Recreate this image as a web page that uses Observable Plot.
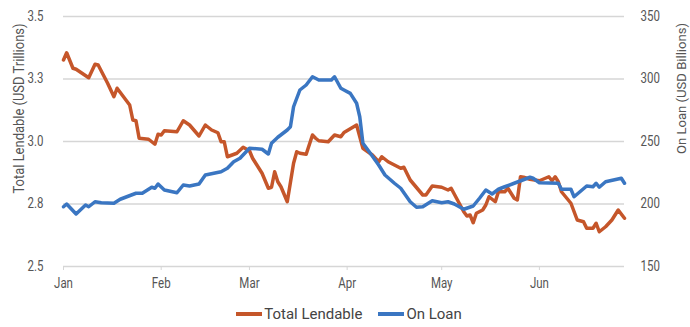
<!DOCTYPE html>
<html><head><meta charset="utf-8">
<script src="https://cdn.jsdelivr.net/npm/d3@7"></script>
<script src="https://cdn.jsdelivr.net/npm/@observablehq/plot@0.6"></script>
<style>
body{margin:0;background:#fff;font-family:Roboto,"Liberation Sans",sans-serif;}
#chart{height:296px}
#legend{display:flex;justify-content:center;align-items:center;height:31px;font-size:15px;color:#444;gap:16px;padding-left:8px;padding-top:2px}
#legend span.item{display:flex;align-items:center}
#legend span.sw{display:inline-block;width:26px;height:4px;margin-right:2px}
</style></head><body><div id="chart"></div><div id="legend"></div>
<script>
const lendDates=["2021-01-01","2021-01-02","2021-01-04","2021-01-05","2021-01-09","2021-01-11","2021-01-12","2021-01-15","2021-01-17","2021-01-18","2021-01-22","2021-01-23","2021-01-24","2021-01-25","2021-01-28","2021-01-30","2021-01-31","2021-02-01","2021-02-02","2021-02-06","2021-02-08","2021-02-10","2021-02-13","2021-02-15","2021-02-17","2021-02-19","2021-02-20","2021-02-21","2021-02-22","2021-02-25","2021-02-27","2021-03-01","2021-03-02","2021-03-05","2021-03-07","2021-03-08","2021-03-09","2021-03-10","2021-03-11","2021-03-13","2021-03-15","2021-03-16","2021-03-17","2021-03-19","2021-03-21","2021-03-22","2021-03-23","2021-03-26","2021-03-28","2021-03-30","2021-03-31","2021-04-04","2021-04-06","2021-04-09","2021-04-11","2021-04-12","2021-04-14","2021-04-16","2021-04-18","2021-04-19","2021-04-21","2021-04-25","2021-04-26","2021-04-28","2021-05-01","2021-05-03","2021-05-04","2021-05-06","2021-05-08","2021-05-09","2021-05-10","2021-05-11","2021-05-12","2021-05-14","2021-05-15","2021-05-16","2021-05-18","2021-05-19","2021-05-21","2021-05-22","2021-05-24","2021-05-25","2021-05-26","2021-05-27","2021-05-29","2021-06-01","2021-06-04","2021-06-05","2021-06-06","2021-06-07","2021-06-08","2021-06-11","2021-06-13","2021-06-15","2021-06-16","2021-06-18","2021-06-19","2021-06-20","2021-06-22","2021-06-24","2021-06-26","2021-06-28"];
const lendValues=[3.326,3.355,3.293,3.289,3.255,3.309,3.306,3.233,3.179,3.213,3.146,3.086,3.083,3.013,3.009,2.989,3.029,3.026,3.043,3.039,3.083,3.066,3.022,3.066,3.046,3.035,2.999,2.999,2.939,2.953,2.977,2.963,2.933,2.873,2.813,2.817,2.879,2.839,2.819,2.759,2.913,2.959,2.953,2.949,3.026,3.013,3.003,2.999,3.026,3.019,3.036,3.066,2.973,2.946,2.919,2.939,2.919,2.906,2.893,2.897,2.846,2.786,2.786,2.822,2.817,2.806,2.813,2.766,2.719,2.702,2.706,2.675,2.713,2.726,2.746,2.779,2.759,2.799,2.799,2.813,2.773,2.766,2.859,2.857,2.849,2.843,2.859,2.843,2.859,2.839,2.799,2.753,2.686,2.679,2.653,2.653,2.673,2.639,2.659,2.686,2.726,2.693];
const loanDates=["2021-01-01","2021-01-02","2021-01-05","2021-01-08","2021-01-09","2021-01-11","2021-01-13","2021-01-17","2021-01-19","2021-01-24","2021-01-26","2021-01-29","2021-01-30","2021-01-31","2021-02-02","2021-02-06","2021-02-08","2021-02-10","2021-02-13","2021-02-15","2021-02-20","2021-02-22","2021-02-24","2021-02-26","2021-03-01","2021-03-05","2021-03-07","2021-03-08","2021-03-10","2021-03-13","2021-03-14","2021-03-15","2021-03-17","2021-03-19","2021-03-21","2021-03-23","2021-03-27","2021-03-28","2021-03-30","2021-03-31","2021-04-02","2021-04-04","2021-04-05","2021-04-06","2021-04-08","2021-04-11","2021-04-13","2021-04-16","2021-04-18","2021-04-21","2021-04-23","2021-04-25","2021-04-28","2021-05-01","2021-05-03","2021-05-05","2021-05-08","2021-05-11","2021-05-13","2021-05-15","2021-05-17","2021-05-19","2021-05-21","2021-05-24","2021-05-29","2021-05-30","2021-06-01","2021-06-07","2021-06-08","2021-06-11","2021-06-12","2021-06-16","2021-06-18","2021-06-19","2021-06-20","2021-06-22","2021-06-27","2021-06-28"];
const loanValues=[197.8,200.0,192.0,199.2,197.8,201.8,201.0,200.6,203.8,208.6,208.6,213.4,212.6,216.0,211.2,209.0,215.2,214.4,216.0,223.2,225.8,228.6,233.8,236.6,244.6,243.8,240.0,248.6,253.4,259.2,261.8,277.8,291.2,295.2,301.8,299.2,299.2,301.8,292.6,291.2,288.5,280.6,269.8,248.6,241.8,231.2,223.2,216.6,212.6,201.8,197.4,197.8,202.6,201.0,201.8,200.0,195.8,198.4,204.6,211.2,208.0,211.8,213.8,216.6,221.4,220.6,217.0,216.6,211.8,211.8,205.8,214.4,213.8,216.6,213.4,217.8,220.6,216.6];
const leftTicks=[2.5,2.75,3.0,3.25,3.5];
const rightTicks=[150,200,250,300,350];
const monthTicks=["2021-01-01","2021-02-01","2021-03-01","2021-04-01","2021-05-01","2021-06-01"];
const monthLabels=["Jan","Feb","Mar","Apr","May","Jun"];
const seriesNames=["Total Lendable","On Loan"];
const seriesColors=["#C5562A","#3A76C2"];
const leftTitle="Total Lendable (USD Trillions)";
const rightTitle="On Loan (USD Billions)";

// map right-axis (billions) values onto left scale
const toLeft=b=>leftTicks[0]+(b-rightTicks[0])*(leftTicks[4]-leftTicks[0])/(rightTicks[4]-rightTicks[0]);
const lend=lendDates.map((d,i)=>({date:new Date(d),v:lendValues[i]}));
const loan=loanDates.map((d,i)=>({date:new Date(d),v:toLeft(loanValues[i])}));
const font='Roboto,"Liberation Sans",sans-serif';

const chart=Plot.plot({
  width:690,height:296,
  marginTop:16,marginBottom:30,marginLeft:63,marginRight:66,
  style:{fontFamily:font,fontSize:"14px",color:"#555",background:"#fff",overflow:"visible"},
  x:{type:"utc",domain:[new Date("2021-01-01"),new Date("2021-06-28")]},
  y:{domain:[2.5,3.5]},
  marks:[
    Plot.ruleY(leftTicks,{stroke:"#d6d6d6",strokeWidth:1.3}),
    Plot.axisX({ticks:monthTicks.map(d=>new Date(d)),tickFormat:(d,i)=>monthLabels[i],tickSize:4,tickPadding:8,stroke:"#d6d6d6",fill:"#555",fontSize:14,label:null}),
    Plot.axisY({ticks:leftTicks,anchor:"left",tickFormat:d3.format(".1f"),tickSize:0,tickPadding:20,fill:"#555",fontSize:14,label:null}),
    Plot.axisY({ticks:leftTicks,anchor:"right",tickFormat:(d,i)=>String(rightTicks[i]),tickSize:0,tickPadding:16,fill:"#555",fontSize:14,label:null}),
    Plot.text([leftTitle],{frameAnchor:"top-left",dx:-49,dy:92,rotate:-90,textAnchor:"middle",fill:"#555",fontSize:14}),
    Plot.text([rightTitle],{frameAnchor:"top-right",dx:52,dy:72,rotate:-90,textAnchor:"middle",fill:"#555",fontSize:13.5}),
    Plot.line(lend,{x:"date",y:"v",stroke:seriesColors[0],strokeWidth:3.5,curve:"linear"}),
    Plot.line(loan,{x:"date",y:"v",stroke:seriesColors[1],strokeWidth:3.5,curve:"linear"})
  ]
});
document.getElementById("chart").appendChild(chart);
// condensed look like the reference typeface
d3.select(chart).selectAll("text").each(function(){
  const t=this.textContent;
  let L;
  if(t===leftTitle) L=170; else if(t===rightTitle) L=131; else L=this.getComputedTextLength()*0.82;
  if(L>0){this.setAttribute("textLength",L);this.setAttribute("lengthAdjust","spacingAndGlyphs");}
});
const lg=document.getElementById("legend");
seriesNames.forEach((n,i)=>{
  const it=document.createElement("span");it.className="item";
  const sw=document.createElement("span");sw.className="sw";sw.style.background=seriesColors[i];
  it.appendChild(sw);it.appendChild(document.createTextNode(n));lg.appendChild(it);
});
</script></body></html>
